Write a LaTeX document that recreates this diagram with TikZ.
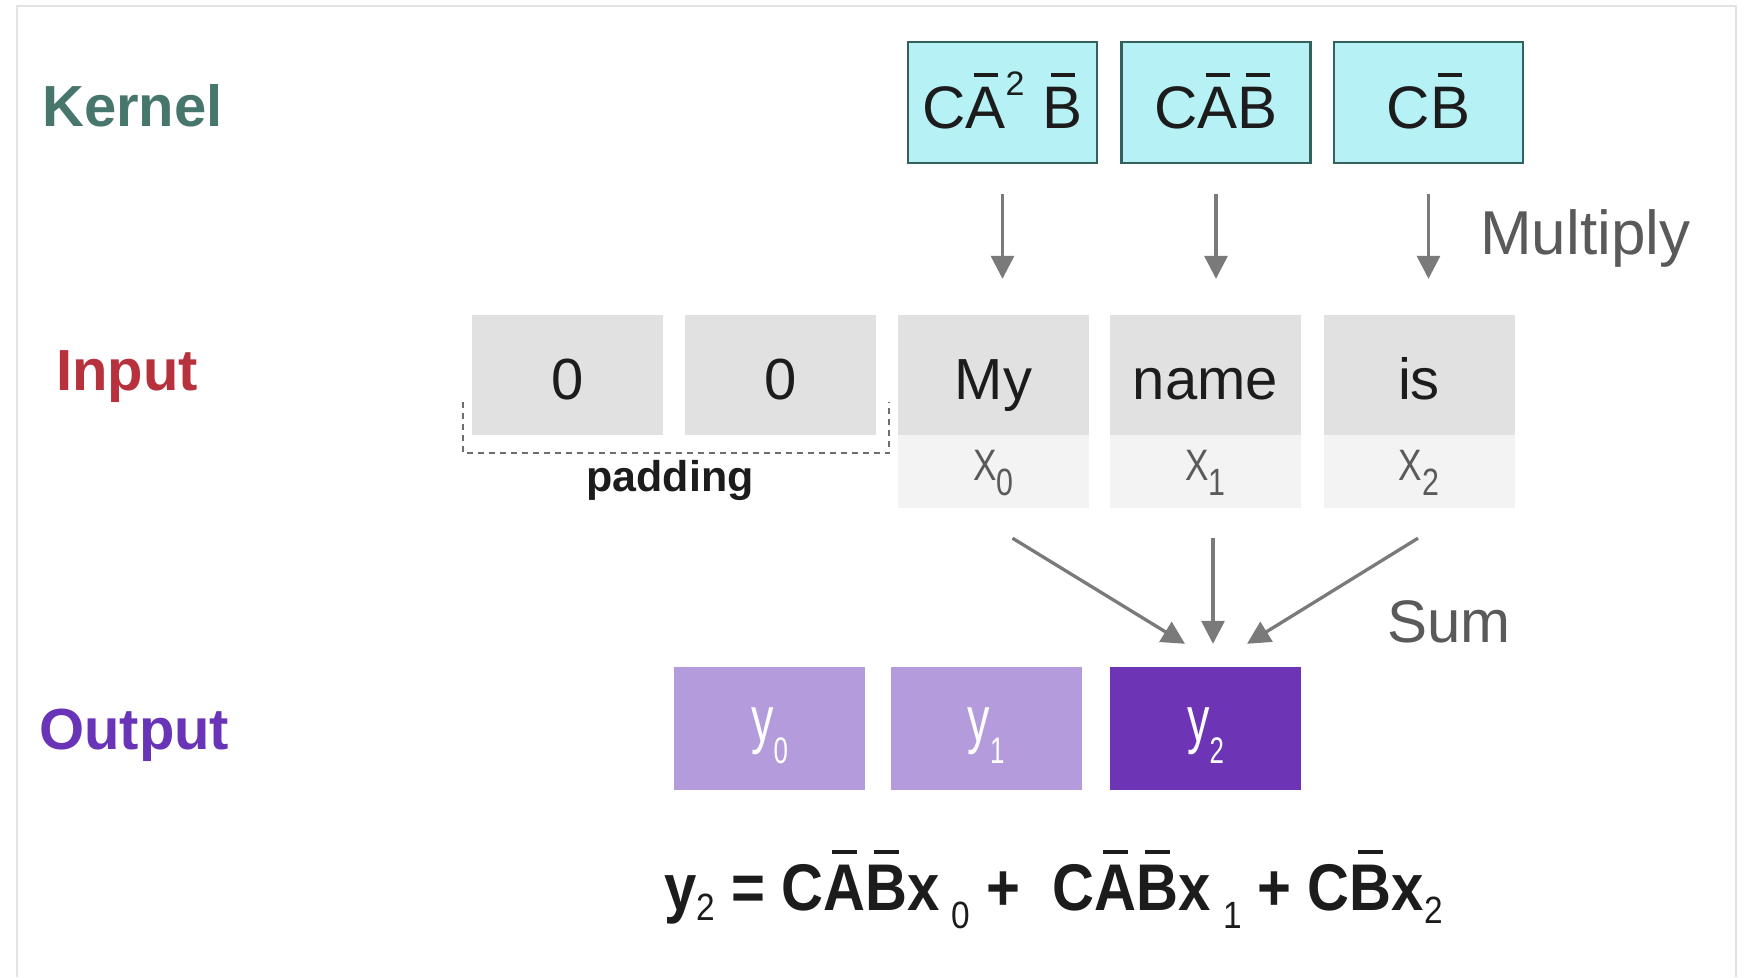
\documentclass[tikz,border=0pt]{standalone}
\usepackage{fontspec}
\setmainfont{Liberation Sans}
\usetikzlibrary{arrows.meta,calc}
\newcommand\fsz[1]{\fontsize{#1}{#1}\selectfont}
\newcommand\barred[1]{\setbox0\hbox{#1}\rlap{\hbox to\wd0{\hss\rule[\dimexpr\ht0+0.17em\relax]{0.6\wd0}{0.06em}\hss}}\box0}
\newcommand\eqsub[2]{\raisebox{#1}{\mdseries\fsz{38}#2}}
\newcommand\xlab[1]{\scalebox{0.8}[1]{X\raisebox{-15pt}{\fsz{38}#1}}}
\newcommand\ylab[1]{\scalebox{0.7}[1]{y\raisebox{-22pt}{\fsz{37}#1}}}
\definecolor{kerncol}{HTML}{47766D}
\definecolor{inpcol}{HTML}{B7323D}
\definecolor{outcol}{HTML}{6A34B8}
\definecolor{kfill}{HTML}{B5F1F5}
\definecolor{kdraw}{HTML}{35615D}
\definecolor{ifill}{HTML}{E1E1E1}
\definecolor{xfill}{HTML}{F3F3F3}
\definecolor{olight}{HTML}{B39BDC}
\definecolor{odark}{HTML}{6D34B6}
\definecolor{arrcol}{HTML}{7A7A7A}
\definecolor{optcol}{HTML}{5A5A5A}
\definecolor{txtcol}{HTML}{1C1C1C}
\definecolor{framecol}{HTML}{E2E2E2}
\begin{document}
\begin{tikzpicture}[x=1pt,y=-1pt,
  lab/.style={anchor=west, inner sep=0pt, font=\fsz{58}\bfseries, text height=41.5pt, text depth=0pt},
  kbox/.style={draw=kdraw, line width=2.5pt, fill=kfill, minimum width=189pt, minimum height=121pt, inner sep=0pt, font=\fsz{60}, text=txtcol, text height=51pt, text depth=0pt},
  ibox/.style={fill=ifill, minimum width=191pt, minimum height=120pt, inner sep=0pt, font=\fsz{58}, text=txtcol, text height=49.5pt, text depth=0pt},
  xbox/.style={fill=xfill, minimum width=191pt, minimum height=73pt, inner sep=0pt, font=\fsz{44}, text=optcol, text height=31.5pt, text depth=14pt},
  obox/.style={minimum width=191pt, minimum height=123pt, inner sep=0pt, font=\fsz{64}, text=white, text height=26pt, text depth=0pt},
  optext/.style={anchor=west, inner sep=0pt, font=\fsz{62}, text=optcol, text height=44pt, text depth=0pt},
  arr/.style={draw=arrcol, line width=3.3pt, -{Triangle[length=23pt,width=23pt]}}
]
\useasboundingbox (0,0) rectangle (1750,977);
\fill[white] (0,0) rectangle (1750,977);
\draw[framecol, line width=2pt] (17,977) -- (17,6) -- (1736,6) -- (1736,977);

% row labels
\node[lab, text=kerncol] (lk) at (42,106) {Kernel};
\node[lab, text=inpcol] (li) at (56,370) {Input};
\node[lab, text=outcol] (lo) at (39,729) {Output};

% kernel
\node[kbox] (k1) at (1002.5,102.5) {C\barred{A}\raisebox{0.55em}{\fsz{34}2}\hspace{0.3em}\barred{B}};
\node[kbox] (k2) at (1216,102.5) {C\barred{A}\barred{B}};
\node[kbox] (k3) at (1428.5,102.5) {C\barred{B}};

% input
\node[ibox] (in1) at (567.5,375) {0};
\node[ibox] (in2) at (780.5,375) {0};
\node[ibox] (in3) at (993.5,375) {My};
\node[ibox] (in4) at (1205.5,375) {name};
\node[ibox] (in5) at (1419,375) {is};
\node[xbox] (xl0) at (993.5,471.5) {\xlab{0}};
\node[xbox] (xl1) at (1205.5,471.5) {\xlab{1}};
\node[xbox] (xl2) at (1419,471.5) {\xlab{2}};

% padding
\draw[draw=arrcol!90!black, line width=2.5pt, dash pattern=on 6pt off 5pt]
  ($(in1.south west)+(-9,-33)$) |- ($(in2.south east)+(13,18)$) -- ($(in2.south east)+(13,-33)$);
\node[inner sep=0pt, font=\fsz{43}\bfseries, text=txtcol, text height=31pt, text depth=9pt] (pad) at (670,480) {padding};

% multiply arrows
\draw[arr] ($(k1.south)+(0,30)$) -- ($(k1.south |- in3.north)+(0,-36)$);
\draw[arr] ($(k2.south)+(0,30)$) -- ($(k2.south |- in4.north)+(0,-36)$);
\draw[arr] ($(k3.south)+(0,30)$) -- ($(k3.south |- in5.north)+(0,-36)$);
\node[optext] (mul) at (1480,232) {Multiply};

% output
\node[obox, fill=olight] (y0) at (769.5,728.5) {\ylab{0}};
\node[obox, fill=olight] (y1) at (986,728.5) {\ylab{1}};
\node[obox, fill=odark] (y2) at (1205.5,728.5) {\ylab{2}};

% sum arrows
\draw[arr] ($(xl0.south)+(19,30)$) -- ($(y2.north)+(-20.5,-23)$);
\draw[arr] ($(xl1.south)+(7.5,30)$) -- ($(y2.north)+(7.5,-23)$);
\draw[arr] ($(xl2.south)+(-1,30)$) -- ($(y2.north)+(41.5,-23)$);
\node[optext, font=\fsz{60}, text height=43pt] (sum) at (1387,621) {Sum};

% equation
\node[anchor=west, inner sep=0pt, font=\fsz{66}\bfseries, text=txtcol, text height=47pt, text depth=0pt] (eq) at (664,887)
  {\scalebox{0.88}[1]{y\eqsub{-10pt}{2} = C\barred{A}\barred{B}x\hspace{14pt}\eqsub{-18pt}{0} + \ C\barred{A}\barred{B}x\hspace{14pt}\eqsub{-18pt}{1} + C\barred{B}x\eqsub{-13pt}{2}}};
\end{tikzpicture}
\end{document}
